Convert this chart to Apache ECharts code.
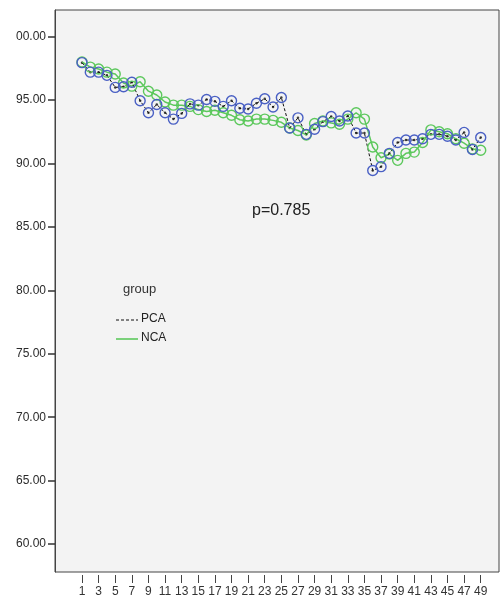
<!DOCTYPE html>
<html><head><meta charset="utf-8">
<script src="https://cdn.jsdelivr.net/npm/echarts@6/dist/echarts.min.js"></script>
<style>html,body{margin:0;padding:0;background:#fff}#c{width:500px;height:598px}</style>
</head><body><div id="c"></div>
<script>
const categories = [1,2,3,4,5,6,7,8,9,10,11,12,13,14,15,16,17,18,19,20,21,22,23,24,25,26,27,28,29,30,31,32,33,34,35,36,37,38,39,40,41,42,43,44,45,46,47,48,49];
const pcaValues = [97.95,97.2,97.2,96.95,96.0,96.05,96.4,94.95,94.0,94.65,94.0,93.5,93.95,94.7,94.6,95.05,94.9,94.5,94.95,94.35,94.3,94.75,95.1,94.45,95.2,92.8,93.6,92.3,92.7,93.3,93.7,93.35,93.75,92.4,92.4,89.45,89.75,90.8,91.65,91.85,91.85,91.95,92.3,92.3,92.15,91.85,92.45,91.1,92.05];
const ncaValues = [98.0,97.6,97.45,97.2,97.05,96.35,96.1,96.45,95.7,95.4,94.85,94.6,94.6,94.5,94.25,94.1,94.2,94.0,93.8,93.45,93.35,93.5,93.5,93.4,93.25,92.8,92.6,92.25,93.15,93.35,93.2,93.1,93.5,94.0,93.5,91.3,90.45,90.75,90.25,90.8,90.9,91.65,92.65,92.5,92.35,91.95,91.6,91.15,91.05];
const xTickValues = [1,3,5,7,9,11,13,15,17,19,21,23,25,27,29,31,33,35,37,39,41,43,45,47,49];
const yTickValues = [60,65,70,75,80,85,90,95,100];
const yTickLabels = ["60.00","65.00","70.00","75.00","80.00","85.00","90.00","95.00","00.00"];
const groupTitle = "group";
const seriesNames = ["PCA","NCA"];
const pText = "p=0.785";

const pcaData = categories.map((c,i)=>[c,pcaValues[i]]);
const ncaData = categories.map((c,i)=>[c,ncaValues[i]]);
const font = "'Liberation Sans', Arial, sans-serif";

const chart = echarts.init(document.getElementById('c'), null, {renderer:'canvas'});
chart.setOption({
  animation:false,
  backgroundColor:'#ffffff',
  grid:{left:55,top:10,right:1,bottom:26,show:true,backgroundColor:'#f3f3f3',borderColor:'#444',borderWidth:1},
  xAxis:{type:'value',min:-2.25,max:51.2,offset:3,
    axisLine:{show:false},
    splitLine:{show:false},
    axisTick:{show:true,inside:false,length:8,customValues:xTickValues,lineStyle:{color:'#444',width:1}},
    axisLabel:{customValues:xTickValues,margin:11,color:'#333',fontSize:12,fontFamily:font}
  },
  yAxis:{type:'value',min:57.8,max:102.1,position:'left',
    axisLine:{show:true,onZero:false,lineStyle:{color:'#444',width:1}},
    splitLine:{show:false},
    axisTick:{show:true,inside:false,length:7,customValues:yTickValues,lineStyle:{color:'#333',width:1.5}},
    axisLabel:{customValues:yTickValues,margin:9,color:'#2a2a2a',fontSize:12,fontFamily:font,
      formatter:function(v){const k=yTickValues.indexOf(Math.round(v));return k>=0?yTickLabels[k]:'';}}
  },
  series:[
    {name:seriesNames[1],type:'line',data:ncaData,symbol:'circle',symbolSize:10,
     lineStyle:{color:'#5cc85c',width:1.5},
     itemStyle:{color:'rgba(0,0,0,0)',borderColor:'#5cc85c',borderWidth:1.4}},
    {name:seriesNames[0],type:'line',data:pcaData,symbol:'circle',symbolSize:10,
     lineStyle:{color:'#111',width:1,type:[3,2]},
     itemStyle:{color:'rgba(0,0,0,0)',borderColor:'#4a60c4',borderWidth:1.4}},
    {name:seriesNames[0]+' center',type:'scatter',data:pcaData,symbol:'circle',symbolSize:2.5,
     itemStyle:{color:'#111'},silent:true}
  ],
  graphic:[
    {type:'text',left:252,top:203,style:{text:pText,font:'16px '+font,fill:'#222'}},
    {type:'text',left:123,top:283,style:{text:groupTitle,font:'13px '+font,fill:'#333'}},
    {type:'line',shape:{x1:116,y1:320,x2:138,y2:320},style:{stroke:'#111',lineWidth:1.2,lineDash:[3,2]}},
    {type:'text',left:141,top:313,style:{text:seriesNames[0],font:'12px '+font,fill:'#222'}},
    {type:'line',shape:{x1:116,y1:339,x2:138,y2:339},style:{stroke:'#5cc85c',lineWidth:1.6}},
    {type:'text',left:141,top:332,style:{text:seriesNames[1],font:'12px '+font,fill:'#222'}}
  ]
});
</script></body></html>
